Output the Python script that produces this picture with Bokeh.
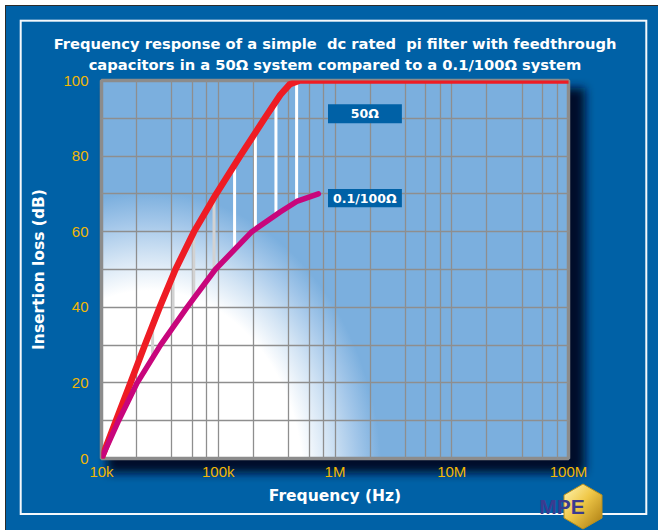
import urllib.parse
from bokeh.plotting import figure
from bokeh.models import (FixedTicker, BoxAnnotation, Label, Range1d, Title, InlineStyleSheet, LogAxis)
from bokeh.embed import file_html
from bokeh.resources import INLINE

# ---------------- data ----------------
freq_50 = [1e4, 1.33e4, 1.77e4, 2.35e4, 3.15e4, 4.3e4, 6.2e4, 9.6e4,
           1.54e5, 2.05e5, 2.5e5, 3.4e5, 4.1e5, 5.0e5, 1e8]
loss_50 = [0, 10, 20, 30, 40, 50, 60, 70,
           80, 85.9, 90, 96.2, 99, 100, 100]

freq_01 = [1e4, 1.4e4, 2.02e4, 3.2e4, 5.4e4, 9.43e4, 1.94e5, 3.39e5, 4.7e5, 7.2e5]
loss_01 = [0, 10, 20, 30, 40, 50, 60, 65.2, 68, 70]

hatch_freq = [1.83e4, 2.74e4, 4.1e4, 6.17e4, 9.2e4, 1.38e5, 2.08e5, 3.12e5, 4.69e5]
hatch_low = [17.0, 26.4, 35.0, 42.4, 49.3, 55.3, 60.5, 64.6, 68.1]
hatch_high = [20.5, 35.0, 48.0, 59.5, 68.5, 77.5, 86.0, 94.3, 99.5]

x_tick_values = [10000, 100000, 1000000, 10000000, 100000000]
x_tick_labels = ["10k", "100k", "1M", "10M", "100M"]
y_tick_values = [0, 20, 40, 60, 80, 100]
series_names = ["50\u03a9", "0.1/100\u03a9"]

TITLE_1 = "Frequency response of a simple\u00a0 dc rated\u00a0 pi filter with feedthrough"
TITLE_2 = "capacitors in a 50\u03a9 system compared to a 0.1/100\u03a9 system"
LOGO = "MPE"

# ---------------- styling ----------------
BG = "#0061A6"
GOLD = "#F2B705"
RED = "#EE1C24"
MAG = "#C8067C"
GRID = "#8E8E8E"
TITLE_FONT = "DejaVu Sans"
TICK_FONT = "Liberation Sans"

W, H = 658, 530
FL, FT, FW, FH = 101, 80, 467, 378   # frame left/top/width/height in px
LOGO_X = 88000000                    # horizontal anchor of the logo text (x scale)

# decorative page background (panel, inner white frame, plot shadow, plot-area glow, logo badge)
svg = f"""<svg xmlns='http://www.w3.org/2000/svg' width='{W}' height='{H}'>
<defs>
<radialGradient id='g' gradientUnits='userSpaceOnUse' cx='0' cy='0' r='1'
 gradientTransform='translate(150 482) scale(232 290)'>
<stop offset='0' stop-color='#ffffff'/><stop offset='0.66' stop-color='#ffffff'/>
<stop offset='0.78' stop-color='#d3e4f4'/><stop offset='0.9' stop-color='#a2c6e9'/>
<stop offset='1' stop-color='#7bafde'/></radialGradient>
<filter id='b' x='-10%' y='-10%' width='120%' height='120%'><feGaussianBlur stdDeviation='5'/></filter>
<linearGradient id='h' x1='0' y1='0' x2='1' y2='1'>
<stop offset='0' stop-color='#fff7b8'/><stop offset='0.45' stop-color='#f0c848'/>
<stop offset='1' stop-color='#a8780e'/></linearGradient>
</defs>
<rect x='0' y='0' width='{W}' height='{H}' fill='#ffffff'/>
<rect x='5.5' y='5.5' width='700' height='600' fill='{BG}' stroke='#2b2b2b' stroke-width='1'/>
<rect x='20.7' y='20.7' width='625.6' height='493.3' fill='none' stroke='#f4f8fc' stroke-width='2'/>
<rect x='107' y='88' width='478' height='385' fill='#00112c' filter='url(#b)'/>
<rect x='{FL}' y='{FT}' width='{FW}' height='{FH}' fill='url(#g)'/>
<polygon points='583,484 602,495 602,518 583,529 564,518 564,495' fill='url(#h)' stroke='#b8901c' stroke-width='1'/>
</svg>"""
uri = "data:image/svg+xml," + urllib.parse.quote(svg)
sheet = InlineStyleSheet(css=f""":host {{ background-image: url("{uri}"); background-repeat: no-repeat;
 background-size: {W}px {H}px; }}""")

p = figure(width=W, height=H, x_axis_type="log", title=None,
           x_range=Range1d(1e4, 1e8), y_range=Range1d(0, 100),
           output_backend="svg", toolbar_location=None,
           min_border_left=FL, min_border_top=FT,
           min_border_right=W - FL - FW, min_border_bottom=H - FT - FH,
           stylesheets=[sheet])

p.border_fill_color = None
p.background_fill_color = None
p.outline_line_color = "#8C8C8C"
p.outline_line_width = 3.5

main_x = p.below[0]
main_y = p.left[0]


def bare(ax):
    ax.axis_line_color = None
    ax.major_tick_line_color = None
    ax.minor_tick_line_color = None
    ax.major_tick_in = 0
    ax.major_tick_out = 0
    ax.minor_tick_in = 0
    ax.minor_tick_out = 0


# grids
minor_mult = [1, 2, 4, 6, 8]
grid_x = [d * m for d in x_tick_values[:-1] for m in minor_mult][1:]
p.xgrid.ticker = FixedTicker(ticks=grid_x)
p.ygrid.ticker = FixedTicker(ticks=list(range(10, 100, 10)))
for g in (p.xgrid, p.ygrid):
    g.grid_line_color = GRID
    g.grid_line_width = 1.3

# main axes
main_x.ticker = FixedTicker(ticks=x_tick_values)
main_x.major_label_overrides = {v: l for v, l in zip(x_tick_values, x_tick_labels)}
main_y.ticker = FixedTicker(ticks=y_tick_values)
for ax in (main_x, main_y):
    bare(ax)
    ax.major_label_text_color = GOLD
    ax.major_label_text_font = TICK_FONT
    ax.major_label_text_font_size = "15px"
    ax.axis_label_text_color = "white"
    ax.axis_label_text_font = TITLE_FONT
    ax.axis_label_text_font_style = "bold"
    ax.axis_label_text_font_size = "15.5px"
main_x.major_label_standoff = 4
main_y.major_label_standoff = 13
main_x.axis_label = "Frequency (Hz)"
main_y.axis_label = "Insertion loss (dB)"
main_x.axis_label_standoff = 4
main_y.axis_label_standoff = 12

# title: second line as the label of an extra top axis, first line as a Title above it
top_ax = LogAxis(ticker=FixedTicker(ticks=[]), axis_label=TITLE_2, major_label_standoff=0,
                 axis_label_standoff=8, axis_label_text_color="white",
                 axis_label_text_font=TITLE_FONT, axis_label_text_font_size="14.7px",
                 axis_label_text_font_style="bold")
bare(top_ax)
p.add_layout(top_ax, "above")
p.add_layout(Title(text=TITLE_1, align="center", text_color="white", text_font=TITLE_FONT,
                   text_font_size="14.7px", text_font_style="bold", standoff=2), "above")

# logo text on an extra bottom axis (single tick)
logo_ax = LogAxis(ticker=FixedTicker(ticks=[LOGO_X]), major_label_overrides={LOGO_X: LOGO},
                  major_label_standoff=-13, major_label_text_color="#3B3B8F",
                  major_label_text_font=TICK_FONT, major_label_text_font_size="21px",
                  major_label_text_font_style="bold")
bare(logo_ax)
p.add_layout(logo_ax, "below")

# hatch lines between curves
hatch_colors = ["#D2D2D2" if i < 5 else "#FFFFFF" for i in range(len(hatch_freq))]
p.segment(x0=hatch_freq, y0=hatch_low, x1=hatch_freq, y1=hatch_high,
          line_color=hatch_colors, line_width=3)

# curves
p.line(freq_50, loss_50, line_color=RED, line_width=6.5, line_cap="round", line_join="round")
p.line(freq_01, loss_01, line_color=MAG, line_width=5.5, line_cap="round", line_join="round")

# series labels (boxes)
for (bl, br, bb, bt, lx, ly), name in zip(
        [(8.71e5, 3.74e6, 88.7, 93.7, 1.8e6, 91.2),
         (8.71e5, 3.74e6, 66.5, 71.3, 1.8e6, 68.9)], series_names):
    p.add_layout(BoxAnnotation(left=bl, right=br, bottom=bb, top=bt,
                               fill_color=BG, fill_alpha=1, line_color=None))
    p.add_layout(Label(x=lx, y=ly, text=name, text_align="center", text_baseline="middle",
                       text_color="white", text_font=TITLE_FONT, text_font_style="bold",
                       text_font_size="12.5px"))

open("out.html", "w").write(file_html(p, INLINE))
